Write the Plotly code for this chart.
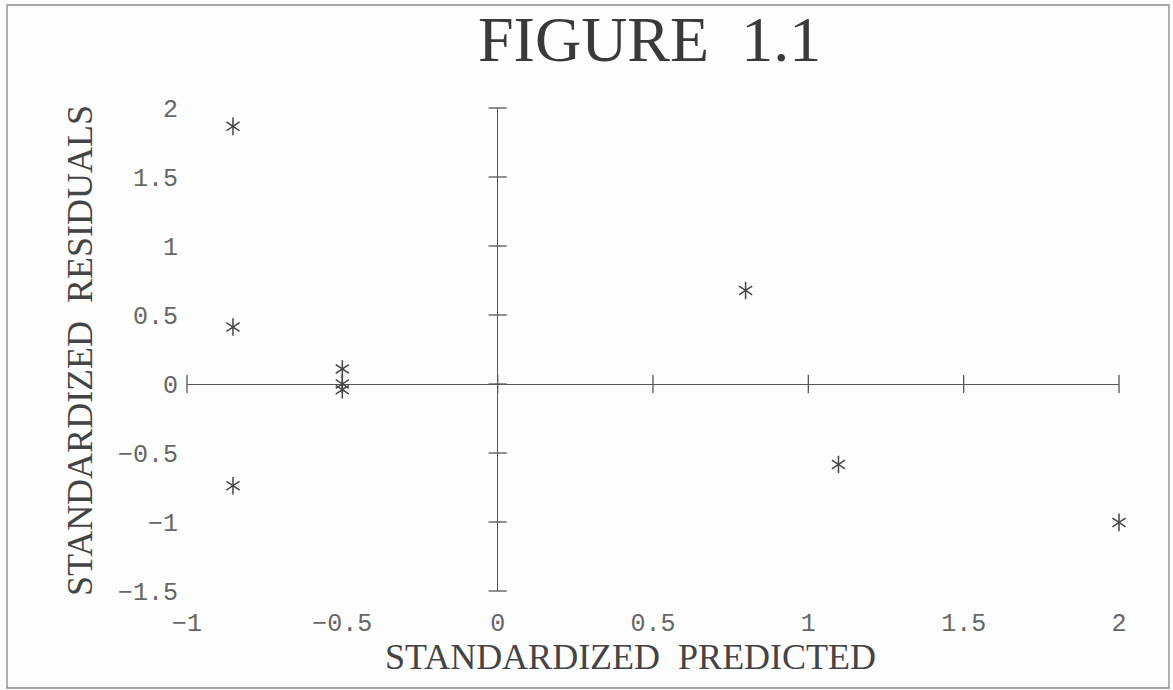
import plotly.graph_objects as go

# ---- data ----
pred = [-0.852, -0.852, -0.852, -0.500, -0.500, -0.500, 0.798, 1.097, 2.000]
resid = [1.867, 0.413, -0.737, 0.109, 0.000, -0.041, 0.678, -0.583, -1.003]
x_ticks = [-1, -0.5, 0, 0.5, 1, 1.5, 2]
x_tick_labels = ["\u22121", "\u22120.5", "0", "0.5", "1", "1.5", "2"]
y_ticks = [-1.5, -1, -0.5, 0, 0.5, 1, 1.5, 2]
y_tick_labels = ["\u22121.5", "\u22121", "\u22120.5", "0", "0.5", "1", "1.5", "2"]
title_text = "FIGURE\u00a0 1.1"
x_title = "STANDARDIZED\u00a0 PREDICTED"
y_title = "STANDARDIZED\u00a0 RESIDUALS"

W, H = 1173, 690
ML, MR, MT, MB = 187, 54, 108, 99
PW, PH = W - ML - MR, H - MT - MB


def px(xp):
    return (xp - ML) / PW


def py(yp):
    return 1 - (yp - MT) / PH


INK = "#555555"
SERIF = "Liberation Serif"
MONO = "Liberation Mono"

fig = go.Figure()

# tick marks crossing the axes at zero
fig.add_trace(go.Scatter(
    x=x_ticks, y=[0] * len(x_ticks), mode="markers", cliponaxis=False,
    marker=dict(symbol="line-ns-open", size=13, color=INK,
                line=dict(color=INK, width=1.3)),
    hoverinfo="skip", showlegend=False))
fig.add_trace(go.Scatter(
    x=[0] * len(y_ticks), y=y_ticks, mode="markers", cliponaxis=False,
    marker=dict(symbol="line-ew-open", size=13, color=INK,
                line=dict(color=INK, width=1.3)),
    hoverinfo="skip", showlegend=False))

# six-armed asterisk markers
for sym in ["y-up-open", "y-down-open"]:
    fig.add_trace(go.Scatter(
        x=pred, y=resid, mode="markers", cliponaxis=False,
        marker=dict(symbol=sym, size=11, color="#444444",
                    line=dict(color="#444444", width=1.5)),
        showlegend=False))

fig.update_xaxes(
    range=[-1, 2], tickvals=x_ticks, ticktext=x_tick_labels,
    showgrid=False, showline=False, ticks="",
    zeroline=True, zerolinecolor=INK, zerolinewidth=1.2,
    tickfont=dict(family=MONO, size=25, color="#666666"),
    ticklabelstandoff=14)
fig.update_yaxes(
    range=[-1.5, 2], tickvals=y_ticks, ticktext=y_tick_labels,
    showgrid=False, showline=False, ticks="",
    zeroline=True, zerolinecolor=INK, zerolinewidth=1.2,
    tickfont=dict(family=MONO, size=25, color="#666666"),
    ticklabelstandoff=8)

fig.update_layout(
    width=W, height=H,
    margin=dict(l=ML, r=MR, t=MT, b=MB),
    paper_bgcolor="#fdfdfd", plot_bgcolor="#fdfdfd",
    showlegend=False,
    shapes=[dict(type="rect", xref="paper", yref="paper",
                 x0=px(7), x1=px(1169), y0=py(688), y1=py(5),
                 line=dict(color="#888888", width=1.3), layer="below")],
    annotations=[
        dict(text=title_text, xref="paper", yref="paper", x=px(649), y=py(2),
             xanchor="center", yanchor="top", showarrow=False,
             font=dict(family=SERIF, size=64, color="#3a3a3a")),
        dict(text=x_title, xref="paper", yref="paper", x=px(630), y=py(657),
             xanchor="center", yanchor="middle", showarrow=False,
             font=dict(family=SERIF, size=36, color="#444444")),
        dict(text=y_title, xref="paper", yref="paper", x=px(80), y=py(351),
             xanchor="center", yanchor="middle", showarrow=False, textangle=-90,
             font=dict(family=SERIF, size=36, color="#444444")),
    ],
)

fig.write_html("out.html")
